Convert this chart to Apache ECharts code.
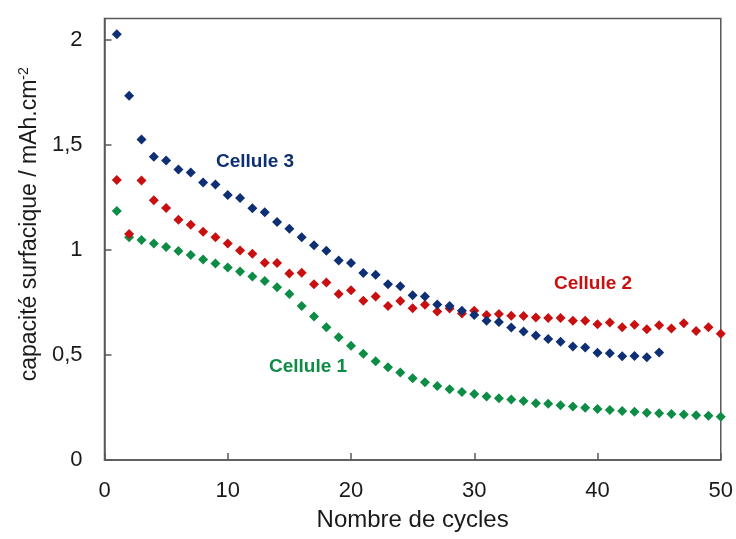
<!DOCTYPE html>
<html>
<head>
<meta charset="utf-8">
<script src="https://cdn.jsdelivr.net/npm/echarts@6/dist/echarts.min.js"></script>
<style>
  html, body { margin: 0; padding: 0; background: #fff; }
  #chart { width: 736px; height: 539px; }
</style>
</head>
<body>
<div id="chart"></div>
<script>
var cycles = [];
for (var i = 1; i <= 50; i++) cycles.push(i);

var cellule1 = [1.184, 1.06, 1.046, 1.03, 1.013, 0.994, 0.975, 0.954, 0.935, 0.916,
  0.897, 0.873, 0.852, 0.822, 0.789, 0.733, 0.683, 0.632, 0.584, 0.543,
  0.505, 0.47, 0.441, 0.416, 0.389, 0.37, 0.352, 0.337, 0.324, 0.314,
  0.302, 0.294, 0.288, 0.281, 0.27, 0.267, 0.26, 0.254, 0.249, 0.243,
  0.238, 0.233, 0.23, 0.225, 0.222, 0.219, 0.216, 0.213, 0.211, 0.206];

var cellule2 = [1.332, 1.075, 1.329, 1.235, 1.199, 1.143, 1.119, 1.086, 1.059, 1.03,
  0.997, 0.981, 0.938, 0.937, 0.887, 0.891, 0.836, 0.844, 0.789, 0.808,
  0.757, 0.778, 0.733, 0.756, 0.722, 0.738, 0.706, 0.721, 0.697, 0.71,
  0.69, 0.695, 0.686, 0.685, 0.678, 0.675, 0.675, 0.662, 0.662, 0.646,
  0.654, 0.632, 0.643, 0.622, 0.641, 0.625, 0.651, 0.614, 0.632, 0.6];

var cellule3 = [2.025, 1.733, 1.524, 1.443, 1.424, 1.382, 1.368, 1.32, 1.311, 1.26,
  1.246, 1.198, 1.178, 1.132, 1.1, 1.06, 1.022, 0.995, 0.949, 0.937,
  0.89, 0.881, 0.836, 0.827, 0.784, 0.778, 0.74, 0.733, 0.71, 0.69,
  0.662, 0.656, 0.63, 0.611, 0.592, 0.576, 0.563, 0.54, 0.535, 0.51,
  0.508, 0.494, 0.495, 0.489, 0.511];

var yTicks = [0, 0.5, 1, 1.5, 2];

var colors = { c1: '#0c8c45', c2: '#c81010', c3: '#0f2f74' };

function pairs(vals) {
  return vals.map(function (v, i) { return [cycles[i], v]; });
}

var chart = echarts.init(document.getElementById('chart'));

var font = '"Liberation Sans", Arial, sans-serif';

function serie(name, vals, color) {
  return {
    name: name,
    type: 'scatter',
    symbol: 'diamond',
    symbolSize: 10,
    itemStyle: { color: color, opacity: 1 },
    data: pairs(vals)
  };
}

option = {
  animation: false,
  textStyle: { fontFamily: font },
  grid: {
    left: 104.5, right: 12.5, top: 18.5, bottom: 79,
    show: true, borderColor: '#595959', borderWidth: 1.5
  },
  xAxis: {
    type: 'value',
    min: 0, max: 50, interval: 10,
    name: 'Nombre de cycles',
    nameLocation: 'middle',
    nameGap: 48,
    nameTextStyle: { fontSize: 24, color: '#1a1a1a', fontFamily: font },
    axisLine: { lineStyle: { color: '#595959', width: 1.5 } },
    axisTick: { inside: true, length: 7, lineStyle: { color: '#595959', width: 1.5 } },
    axisLabel: { fontSize: 22, color: '#1a1a1a', margin: 20, fontFamily: font },
    splitLine: { show: false }
  },
  yAxis: {
    type: 'value',
    min: 0, max: 2.1, interval: 0.5,
    name: 'capacité surfacique / mAh.cm{sup|-2}',
    nameLocation: 'middle',
    nameGap: 62,
    nameTextStyle: {
      fontSize: 23, color: '#1a1a1a', fontFamily: font,
      padding: [0, 0, 0, 30],
      rich: { sup: { fontSize: 14, verticalAlign: 'top', padding: [0, 0, 10, 0], color: '#1a1a1a', fontFamily: font } }
    },
    axisLine: { lineStyle: { color: '#595959', width: 1.5 } },
    axisTick: { inside: true, length: 7, lineStyle: { color: '#595959', width: 1.5 } },
    axisLabel: {
      fontSize: 22, color: '#1a1a1a', margin: 22, fontFamily: font,
      showMaxLabel: false,
      formatter: function (v) {
        return yTicks.indexOf(v) >= 0 ? String(v).replace('.', ',') : '';
      }
    },
    splitLine: { show: false }
  },
  graphic: [
    { type: 'text', left: 216, top: 152, style: { text: 'Cellule 3', fill: colors.c3, font: 'bold 19px ' + font } },
    { type: 'text', left: 554, top: 274, style: { text: 'Cellule 2', fill: colors.c2, font: 'bold 19px ' + font } },
    { type: 'text', left: 269, top: 357, style: { text: 'Cellule 1', fill: colors.c1, font: 'bold 19px ' + font } }
  ],
  series: [
    serie('Cellule 1', cellule1, colors.c1),
    serie('Cellule 2', cellule2, colors.c2),
    serie('Cellule 3', cellule3, colors.c3)
  ]
};

chart.setOption(option);
</script>
</body>
</html>
